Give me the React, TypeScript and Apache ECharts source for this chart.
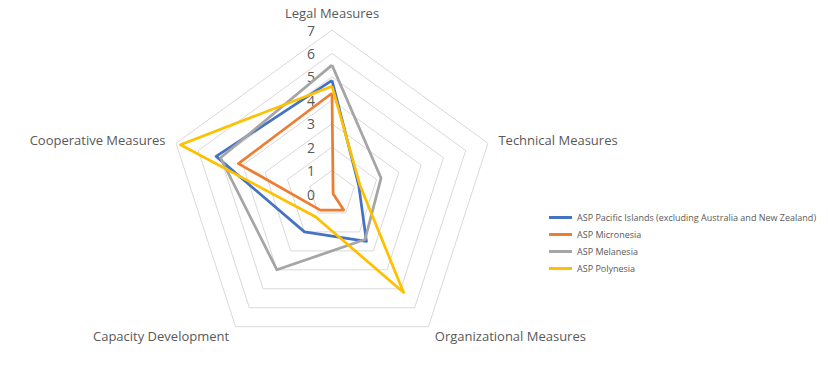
import React, { useEffect, useRef } from "react";
import * as echarts from "echarts";

const indicators = [
  "Legal Measures",
  "Technical Measures",
  "Organizational Measures",
  "Capacity Development",
  "Cooperative Measures",
];
const axisMax = 7;
const seriesNames = [
  "ASP Pacific Islands (excluding Australia and New Zealand)",
  "ASP Micronesia",
  "ASP Melanesia",
  "ASP Polynesia",
];
const pacificIslands = [4.85, 1.2, 2.5, 2.0, 5.2];
const micronesia = [4.3, 0.05, 0.85, 0.85, 4.2];
const melanesia = [5.5, 2.2, 2.4, 4.0, 5.0];
const polynesia = [4.6, 1.25, 5.2, 1.2, 6.8];
const colors = ["#4472C4", "#ED7D31", "#A5A5A5", "#FFC000"];

// ECharts radar runs counter-clockwise; this order makes it clockwise like the reference
const drawOrder = [0, 4, 3, 2, 1];

export default function App() {
  const ref = useRef<HTMLDivElement>(null);
  useEffect(() => {
    if (!ref.current) return;
    const chart = echarts.init(ref.current, null, { renderer: "svg" });
    const values = [pacificIslands, micronesia, melanesia, polynesia];
    chart.setOption({
      animation: false,
      color: colors,
      legend: {
        orient: "vertical",
        left: 544,
        top: 208,
        itemWidth: 23,
        itemHeight: 3,
        itemGap: 8,
        icon: "rect",
        data: seriesNames,
        textStyle: { fontSize: 9, color: "#595959", fontFamily: "Open Sans" },
      },
      radar: {
        center: [332, 194],
        radius: 164,
        startAngle: 90,
        shape: "polygon",
        splitNumber: axisMax,
        nameGap: 11,
        axisName: { color: "#595959", fontSize: 13, fontFamily: "Open Sans" },
        axisLine: { show: false },
        axisTick: { show: false },
        splitArea: { show: false },
        splitLine: { lineStyle: { color: "#D9D9D9", width: 1 } },
        axisLabel: {
          show: false,
          color: "#595959",
          fontSize: 14,
          fontFamily: "Open Sans",
          margin: 21,
          align: "center",
          verticalAlign: "middle",
        },
        indicator: drawOrder.map((k, i) => ({
          name: indicators[k],
          min: 0,
          max: axisMax,
          ...(i === 0 ? { axisLabel: { show: true } } : {}),
        })),
      },
      series: [
        {
          type: "radar",
          symbol: "none",
          data: seriesNames.map((name, i) => ({
            name,
            value: drawOrder.map((k) => values[i][k]),
            lineStyle: { width: 2.75, color: colors[i] },
            itemStyle: { color: colors[i] },
          })),
        },
      ],
    });
    return () => chart.dispose();
  }, []);
  return (
    <div
      ref={ref}
      style={{ position: "absolute", left: 0, top: 0, width: 828, height: 387, background: "#fff" }}
    />
  );
}
